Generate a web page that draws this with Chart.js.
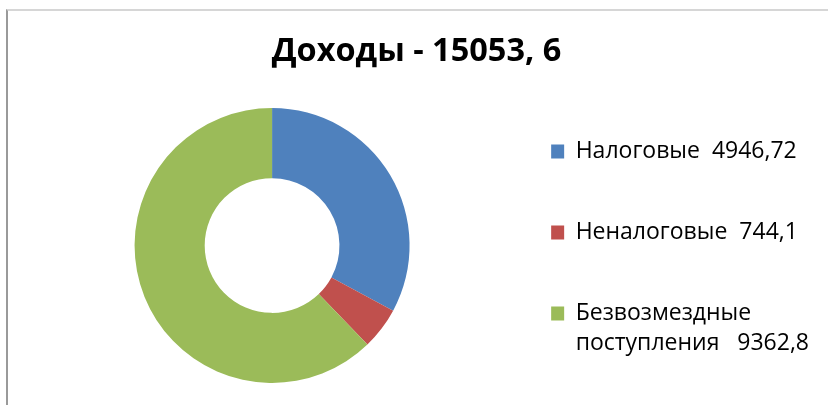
<!DOCTYPE html>
<html>
<head>
<meta charset="utf-8">
<script src="https://cdn.jsdelivr.net/npm/chart.js@4"></script>
<style>
  html, body { margin: 0; padding: 0; background: #fff; }
  #wrap { position: relative; width: 828px; height: 405px; overflow: hidden; }
  #frame {
    position: absolute; left: 6px; top: 9px; right: -4px; bottom: -4px;
    border-left: 2px solid #9a9a9a; border-top: 2px solid #d6d6d6;
  }
  #myChart_Income { position: absolute; left: 0; top: 0; }
</style>
</head>
<body>
<div id="wrap">
  <div id="frame"></div>
  <canvas id="myChart_Income" width="828" height="405"></canvas>
</div>
<script>
// Данные диаграммы
const titleText = "Доходы - 15053, 6";
const categories = ["Налоговые", "Неналоговые", "Безвозмездные поступления"];
const incomeValues = [4946.72, 744.1, 9362.8];
const sliceColors = ["#4f81bd", "#c0504d", "#9bbb59"];
// подписи легенды: строки для каждого пункта
const legendLines = [
  ["Налоговые  4946,72", ""],
  ["Неналоговые  744,1", ""],
  ["Безвозмездные", "поступления   9362,8"],
];

let chartIncome;

function initializeChartIncome(ctx) {
  chartIncome = new Chart(ctx, {
    type: "doughnut",
    data: {
      labels: categories,
      datasets: [
        {
          data: incomeValues,
          backgroundColor: sliceColors,
          borderWidth: 0,
        },
      ],
    },
    options: {
      responsive: false,
      animation: false,
      cutout: "49%",
      layout: {
        padding: { left: 14, right: 9, top: 0, bottom: 22 },
      },
      plugins: {
        tooltip: { enabled: false },
        title: {
          display: true,
          text: titleText,
          color: "#000",
          font: { family: "'Open Sans', sans-serif", size: 32.5, weight: "bold", lineHeight: 1.2 },
          padding: { top: 32, bottom: 37 },
        },
        legend: {
          position: "right",
          align: "end",
          labels: {
            color: "#000",
            boxWidth: 13,
            boxHeight: 14,
            padding: 21,
            font: { family: "'Open Sans', sans-serif", size: 23, lineHeight: "30px" },
            generateLabels: function (chart) {
              return categories.map((c, i) => ({
                text: legendLines[i],
                fillStyle: sliceColors[i],
                strokeStyle: sliceColors[i],
                lineWidth: 0,
                hidden: false,
                index: i,
              }));
            },
          },
        },
      },
    },
  });
}

window.addEventListener("load", function () {
  var ctx = document.getElementById("myChart_Income").getContext("2d");
  initializeChartIncome(ctx);
});
</script>
</body>
</html>
